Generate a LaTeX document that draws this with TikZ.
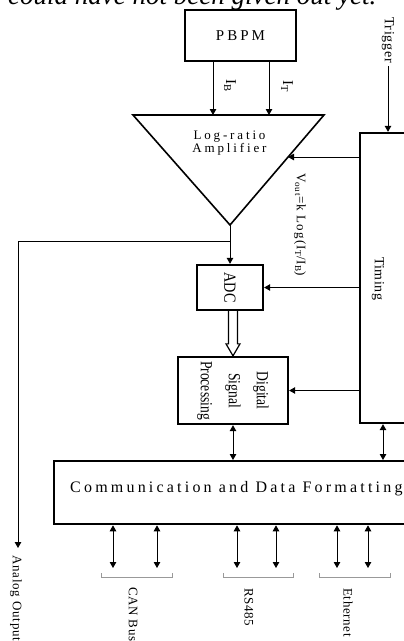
\documentclass[tikz,border=0pt]{standalone}
\usepackage{fontspec}
\usepackage{graphicx}
\setmainfont{Liberation Serif}
\usetikzlibrary{arrows.meta,calc}
\newcommand\lsp[1]{\addfontfeatures{LetterSpace=#1}}
\newcommand\fsz[1]{\fontsize{#1}{#1}\selectfont}
\newcommand\cnd[1]{\scalebox{0.8}[1]{#1}}
\tikzset{
  box/.style={draw, line width=2.3pt, inner sep=0pt},
  arr/.style={-{Triangle[length=6pt,width=6.5pt]}, line width=1pt},
  barr/.style={{Triangle[length=6pt,width=6.5pt]}-{Triangle[length=6pt,width=6.5pt]}, line width=1pt},
  rot/.style={rotate=-90, inner sep=0pt, anchor=west},
  brk/.style={draw=black!40, line width=0.9pt},
  hollow/.style={line width=1.2pt, fill=white, line join=miter}
}
\begin{document}
\begin{tikzpicture}[x=1pt,y=-1pt]
\useasboundingbox (0,0) rectangle (404,641);
\clip (0,0) rectangle (404,641);
\fill[white] (0,0) rectangle (404,641);

% cropped caption line at the top
\node[anchor=base west, inner sep=0pt, font=\fsz{27}\itshape] (cap) at (8,4) {could have not been given out yet.};

% PBPM
\node[box, minimum width=111pt, minimum height=51pt, font=\fsz{15}\lsp{20}] (pbpm) at (240.5,35.5) {PBPM};

% amplifier triangle
\coordinate (ampL) at (133,115);
\coordinate (ampR) at (324,115);
\coordinate (ampT) at (230,225);
\draw[line width=1.6pt, line join=miter] (ampL) -- (ampR) -- (ampT) -- cycle;
\node[align=center, inner sep=0pt, font=\fontsize{13}{12.5}\selectfont\lsp{22}] (amptext) at (229.5,143) {Log-ratio\\Amplifier};

\coordinate (inB) at (213,115);
\coordinate (inT) at (269,115);
\draw[arr] (pbpm.south -| inB) -- (inB);
\draw[arr] (pbpm.south -| inT) -- (inT);
\node[rotate=-90, inner sep=0pt, font=\fsz{15}] (lIB) at (230,86) {I\textsubscript{B}};
\node[rotate=-90, inner sep=0pt, font=\fsz{15}] (lIT) at (287,86) {I\textsubscript{T}};

% Timing
\node[box, minimum width=46pt, minimum height=290pt] (timing) at (383,278) {};
\node[rot, font=\fsz{14}\lsp{3}] (timtext) at ([xshift=-5pt,yshift=21pt]timing.center) {Timing};
\node[rot, font=\fsz{14}\lsp{5}] (trig) at (388,17) {Trigger};
\draw[arr] ([yshift=-3pt]trig.east) -- (trig.east |- timing.north);

\coordinate (ampin) at (288,157);
\draw[arr] (timing.west |- ampin) -- (ampin);

\node[rot, font=\fsz{13}\lsp{9}] (vout) at (300,173) {V\textsubscript{out}=k Log(I\textsubscript{T}/I\textsubscript{B})};

% ADC
\node[box, minimum width=66pt, minimum height=45pt, font=\fsz{17}] (adc) at (230,287.5) {\rotatebox{-90}{\scalebox{0.84}[1]{ADC}}};
\draw[arr] (ampT) -- (adc.north);
\draw[arr] (timing.west |- adc.east) -- (adc.east);

% analog output branch
\coordinate (br) at (230,241);
\coordinate (aoEnd) at (18,548);
\draw[arr] (br) -| (aoEnd);
\node[rot, font=\fsz{13}\lsp{6}] (ao) at (16,555) {Analog Output};

% DSP
\node[box, minimum width=110pt, minimum height=67pt] (dsp) at (233,390.5) {};
\node[rotate=-90, align=center, inner sep=0pt, font=\fontsize{17}{28}\selectfont] (dsptext) at (dsp.center) {\cnd{Digital}\\\cnd{Signal}\\\cnd{Processing}};
\draw[arr] (timing.west |- dsp.east) -- (dsp.east);

% hollow arrow ADC -> DSP
\coordinate (h0) at (adc.south -| dsp.north);
\coordinate (h1) at (dsp.north);
\draw[hollow] ($(h0)+(-4.5,0)$) -- ($(h1)+(-4.5,-12)$) -- ($(h1)+(-7,-12)$) -- (h1)
  -- ($(h1)+(7,-12)$) -- ($(h1)+(4.5,-12)$) -- ($(h0)+(4.5,0)$);

% Communication box
\node[box, minimum width=394pt, minimum height=63pt, anchor=north west] (comm) at (53,460) {};
\node[anchor=base west, inner sep=0pt, font=\fsz{16}\lsp{20}] (commtext) at (70,492) {Communication and Data Formatting};

\draw[barr] (dsp.south) -- (dsp.south |- comm.north);
\draw[barr] (timing.south) -- (timing.south |- comm.north);

% bus arrows
\foreach \i/\x in {1/113,2/157,3/237,4/276,5/337,6/368}{
  \coordinate (p\i) at (\x,568);
  \draw[barr] (p\i |- comm.south) -- (p\i);
}

% brackets
\draw[brk] (101,573) -- (101,577) -- (172,577) -- (172,573);
\draw[brk] (223,573) -- (223,577) -- (293,577) -- (293,573);
\draw[brk] (319,573) -- (319,577) -- (390,577) -- (390,573);

\node[rot, font=\fsz{13}\lsp{5}] (can) at (133,587) {CAN Bus};
\node[rot, font=\fsz{13}\lsp{5}] (rs) at (249,588) {RS485};
\node[rot, font=\fsz{13}\lsp{5}] (eth) at (348,588) {Ethernet};
\end{tikzpicture}
\end{document}
